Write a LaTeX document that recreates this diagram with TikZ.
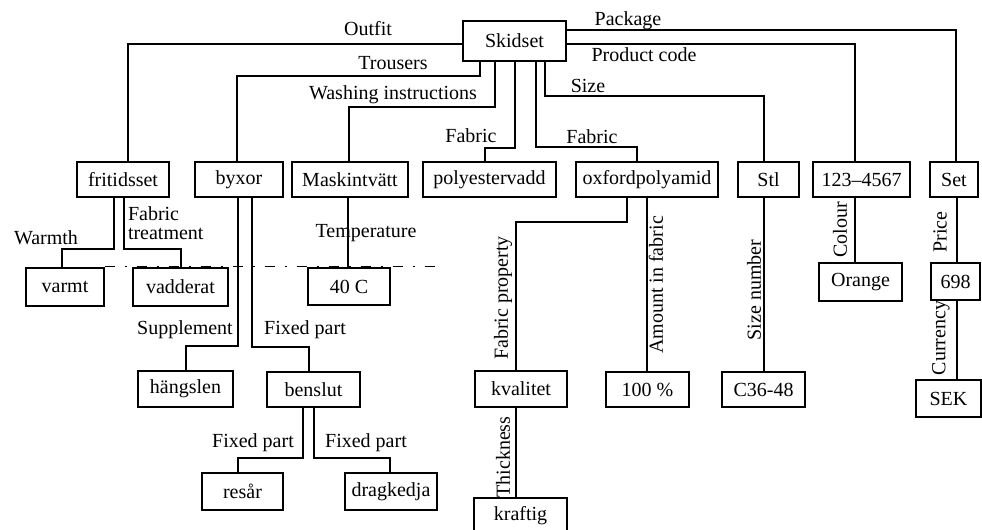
\documentclass[tikz,border=0pt]{standalone}
\usepackage{fontspec}
\setmainfont{Liberation Serif}
\usepackage{tikz}

\begin{document}
\begin{tikzpicture}[x=0.5pt, y=-0.5pt, line width=1pt,
    every node/.style={font=\fontsize{10}{11}\selectfont},
    box/.style={draw, line width=1.1pt, inner sep=0pt, minimum width=#1, minimum height=17.5pt},
    box/.default=40pt,
    lbl/.style={inner sep=0pt},
    vlbl/.style={inner sep=0pt, rotate=90}]
    \useasboundingbox (0,0) rectangle (982,530);

    \node[box=51.5pt, minimum height=20pt] (skid) at (514.5,41) {Skidset};

    \node[box=46pt] (fri) at (123,179.5) {fritidsset};
    \node[box=44pt] (byx) at (239,179.5) {byxor};
    \node[box=58pt] (mask) at (350,179.5) {Maskintvätt};
    \node[box=66.5pt] (poly) at (489.5,179.5) {polyestervadd};
    \node[box=71pt] (oxf) at (647,179.5) {oxfordpolyamid};
    \node[box=30.5pt] (stl) at (768.5,179.5) {Stl};
    \node[box=48.5pt] (code) at (861.5,179.5) {123--4567};
    \node[box=24pt] (set) at (954,179.5) {Set};

    \node[box=39pt, minimum height=19pt] (varmt) at (65,287) {varmt};
    \node[box=47.5pt, minimum height=19pt] (vadd) at (180.5,287) {vadderat};
    \node[box=41pt, minimum height=18.5pt] (temp) at (349,286.5) {40 C};
    \node[box=41.5pt, minimum height=19pt] (orange) at (860.5,282) {Orange};
    \node[box=24.5pt, minimum height=18.5pt] (price) at (955.5,281.5) {698};

    \node[box=47.5pt, minimum height=18pt] (hang) at (185.5,389) {hängslen};
    \node[box=46.5pt] (bens) at (313.5,389.5) {benslut};
    \node[box=46pt, minimum height=18pt] (kval) at (521,389) {kvalitet};
    \node[box=41.5pt] (hundred) at (647.5,389.5) {100 \%};
    \node[box=41.5pt] (c36) at (763.5,389.5) {C36-48};
    \node[box=32.5pt, minimum height=18.5pt] (sek) at (948.5,398.5) {SEK};

    \node[box=40.5pt, minimum height=18.5pt] (resar) at (242.5,491.5) {resår};
    \node[box=46pt, minimum height=18.5pt] (drag) at (391,491.5) {dragkedja};
    \node[box=46.5pt, minimum height=18pt] (kraft) at (520.5,516) {kraftig};

    \draw (skid.west |- 0,44) -| (128,0 |- fri.north);
    \draw (skid.east |- 0,30) -| (956,0 |- set.north);
    \draw (skid.east |- 0,44) -| (855,0 |- code.north);
    \draw (480,0 |- skid.south) |- (237,76) -- (237,0 |- byx.north);
    \draw (495,0 |- skid.south) |- (349,107) -- (349,0 |- mask.north);
    \draw (515,0 |- skid.south) |- (485,148) -- (485,0 |- poly.north);
    \draw (536,0 |- skid.south) |- (637,147) -- (637,0 |- oxf.north);
    \draw (545,0 |- skid.south) |- (764,96) -- (764,0 |- stl.north);

    \draw (114,0 |- fri.south) |- (62,249) -- (62,0 |- varmt.north);
    \draw (124,0 |- fri.south) |- (181,249) -- (181,0 |- vadd.north);
    \draw (348,0 |- mask.south) -- (348,0 |- temp.north);
    \draw (238,0 |- byx.south) |- (186,346) -- (186,0 |- hang.north);
    \draw (252,0 |- byx.south) |- (309,347) -- (309,0 |- bens.north);
    \draw (303,0 |- bens.south) |- (238,458) -- (238,0 |- resar.north);
    \draw (314,0 |- bens.south) |- (390,458) -- (390,0 |- drag.north);
    \draw (627,0 |- oxf.south) |- (516,222) -- (516,0 |- kval.north);
    \draw (647,0 |- oxf.south) -- (647,0 |- hundred.north);
    \draw (516,0 |- kval.south) -- (516,0 |- kraft.north);
    \draw (764,0 |- stl.south) -- (764,0 |- c36.north);
    \draw (855,0 |- code.south) -- (855,0 |- orange.north);
    \draw (957,0 |- set.south) -- (957,0 |- price.north);
    \draw (957,0 |- price.south) -- (957,0 |- sek.north);
    \draw[line width=0.5pt, dash pattern=on 5pt off 5pt on 1pt off 5pt] (varmt.north east) -- (437,0 |- temp.north);

    \node[lbl] at (368,29) {Outfit};
    \node[lbl] at (628,21) {Package};
    \node[lbl] at (644,55) {Product code};
    \node[lbl] at (393,63) {Trousers};
    \node[lbl] at (393,95) {Washing instructions};
    \node[lbl] at (471,136) {Fabric};
    \node[lbl] at (592,137) {Fabric};
    \node[lbl] at (588,86) {Size};
    \node[lbl] at (46,238) {Warmth};
    \node[lbl, anchor=west, align=left, font=\fontsize{10}{9.5}\selectfont] at (127,223) {Fabric\\treatment};
    \node[lbl] at (366,233) {Temperature};
    \node[lbl] at (185,330) {Supplement};
    \node[lbl] at (305,330) {Fixed part};
    \node[lbl] at (253,443) {Fixed part};
    \node[lbl] at (366,443) {Fixed part};
    \node[vlbl] at (503,298) {Fabric property};
    \node[vlbl] at (656,285) {Amount in fabric};
    \node[vlbl] at (503,457) {Thickness};
    \node[vlbl] at (754,290) {Size number};
    \node[vlbl] at (840,230) {Colour};
    \node[vlbl] at (940,232) {Price};
    \node[vlbl] at (941,338) {Currency};
\end{tikzpicture}
\end{document}
